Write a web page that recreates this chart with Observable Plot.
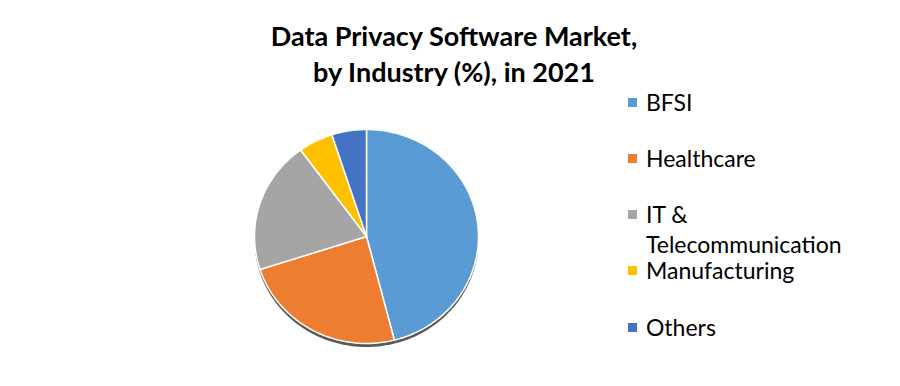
<!DOCTYPE html>
<html>
<head>
<meta charset="utf-8">
<script src="https://cdn.jsdelivr.net/npm/d3@7"></script>
<script src="https://cdn.jsdelivr.net/npm/@observablehq/plot@0.6"></script>
<style>
  html, body { margin: 0; padding: 0; background: #fff; }
  #wrap { position: relative; width: 900px; height: 386px; overflow: hidden; font-family: Lato, "Liberation Sans", sans-serif; }
  #title { position: absolute; left: 4px; width: 900px; top: 18px; text-align: center; font-weight: bold; font-size: 27px; line-height: 36px; color: #000; }
  .lg { position: absolute; left: 628px; font-size: 23px; color: #000; line-height: 30px; }
  .sw { position: absolute; width: 9px; height: 9px; left: 0; top: 11px; }
  .lt { position: absolute; left: 18px; top: 0; white-space: nowrap; }
  #chart { position: absolute; left: 0; top: 0; }
</style>
</head>
<body>
<div id="wrap">
  <div id="chart"></div>
  <div id="title">Data Privacy Software Market,<br>by Industry (%), in 2021</div>
  <div id="legend"></div>
</div>
<script>
const categories = ["BFSI", "Healthcare", "IT & Telecommunication", "Manufacturing", "Others"];
const shares = [46, 24, 20, 5, 5];
const colors = ["#5B9BD5", "#ED7D31", "#A5A5A5", "#FFC000", "#4472C4"];
const legendLines = [["BFSI"], ["Healthcare"], ["IT &", "Telecommunication"], ["Manufacturing"], ["Others"]];
const legendTops = [87, 143, 199, 255, 312];

const arcs = d3.pie().sort(null).value(d => d.value)(categories.map((name, i) => ({name, value: shares[i]})));
const pts = [];
for (const a of arcs) {
  const n = Math.max(2, Math.ceil((a.endAngle - a.startAngle) / (Math.PI / 180)));
  pts.push({name: a.data.name, x: 0, y: 0});
  for (let k = 0; k <= n; k++) {
    const t = a.startAngle + (a.endAngle - a.startAngle) * k / n;
    pts.push({name: a.data.name, x: Math.sin(t), y: Math.cos(t)});
  }
}
const outline = d3.range(0, 361, 2).map(d => ({x: Math.sin(d * Math.PI / 180), y: Math.cos(d * Math.PI / 180)}));

const plot = Plot.plot({
  width: 900,
  height: 386,
  marginLeft: 254,
  marginRight: 422,
  marginTop: 129,
  marginBottom: 43,
  x: {domain: [-1, 1], axis: null},
  y: {domain: [-1, 1], axis: null},
  color: {domain: categories, range: colors},
  marks: [
    Plot.line(outline, {x: "x", y: "y", fill: "#2e2e2e", fillOpacity: 0.8, stroke: "none", curve: "linear-closed", dx: 0, dy: 3.5}),
    Plot.line(pts, {x: "x", y: "y", z: "name", fill: "name", stroke: "white", strokeWidth: 1.5, strokeLinejoin: "round", curve: "linear-closed"})
  ]
});
document.getElementById("chart").appendChild(plot);

const lg = document.getElementById("legend");
categories.forEach((c, i) => {
  const row = document.createElement("div");
  row.className = "lg";
  row.style.top = legendTops[i] + "px";
  const sw = document.createElement("div");
  sw.className = "sw";
  sw.style.background = colors[i];
  row.appendChild(sw);
  const t = document.createElement("div");
  t.className = "lt";
  t.innerHTML = legendLines[i].map(s => s.replace("&", "&amp;")).join("<br>");
  row.appendChild(t);
  lg.appendChild(row);
});
</script>
</body>
</html>
